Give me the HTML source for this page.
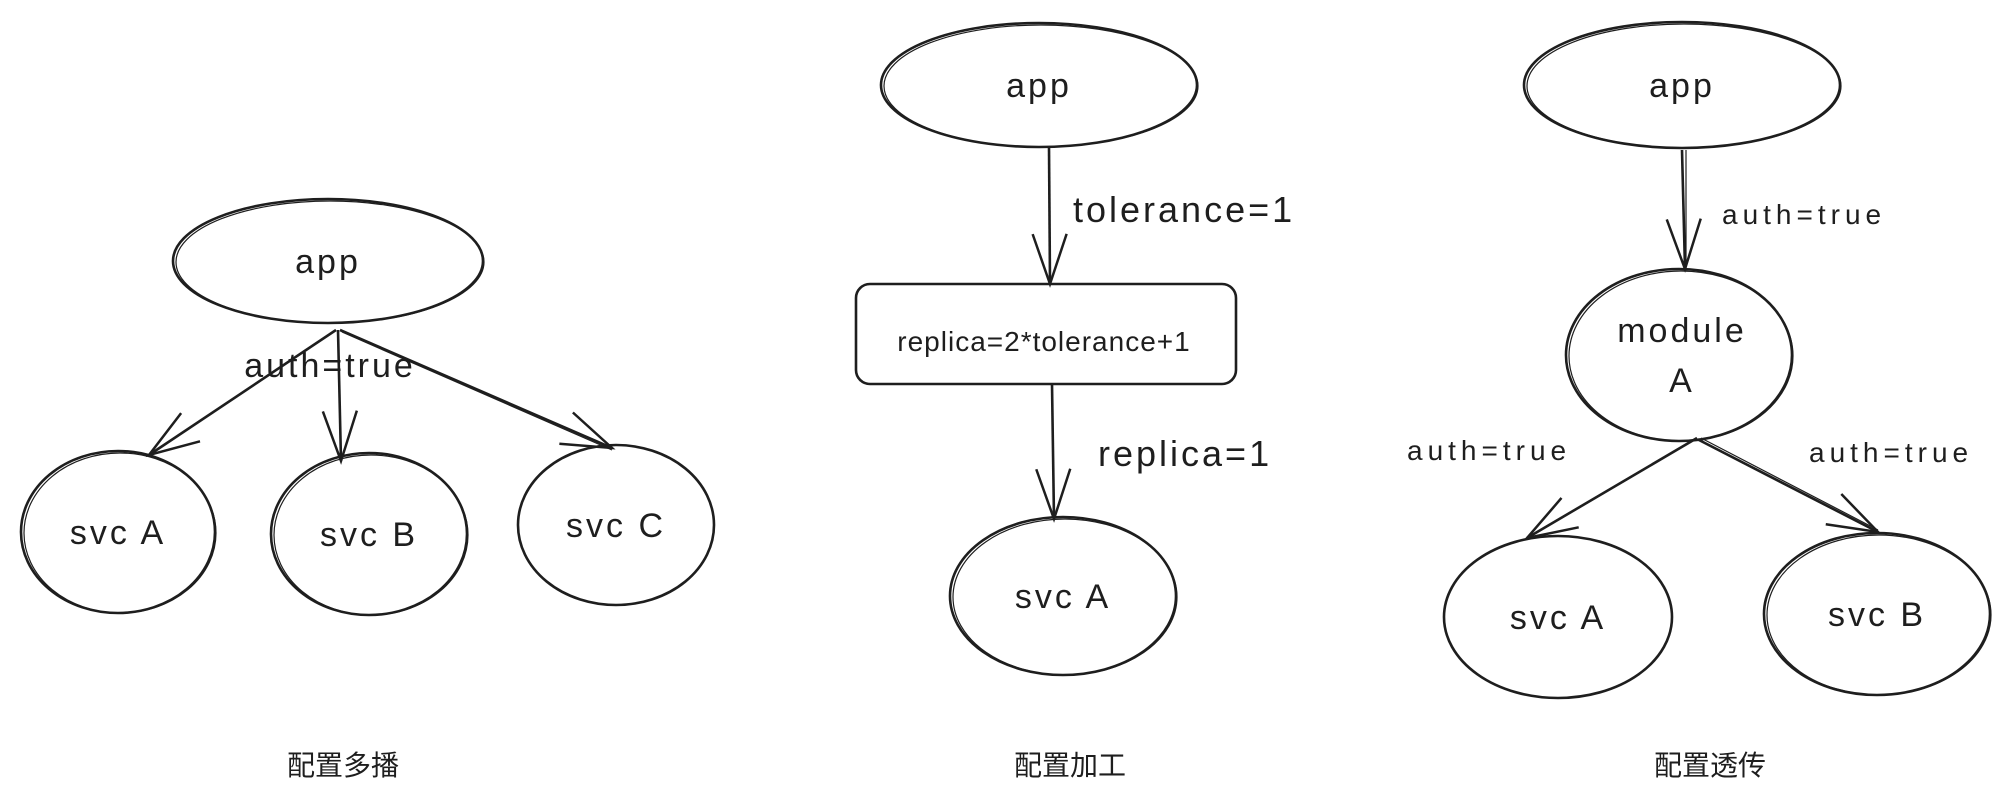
<!DOCTYPE html>
<html><head><meta charset="utf-8"><style>
html,body{margin:0;padding:0;background:#fff;}
svg{display:block;}
text{font-family:"Liberation Sans","Noto Sans CJK SC",sans-serif;fill:#1e1e1e;}
.h{font-family:"Liberation Sans",sans-serif;letter-spacing:3px;}
</style></head><body>
<svg width="2009" height="802" viewBox="0 0 2009 802" xmlns="http://www.w3.org/2000/svg">
<defs>
<marker id="a" markerWidth="60" markerHeight="50" refX="55" refY="25" orient="auto" markerUnits="userSpaceOnUse">
<path d="M5,8 L55,25 L5,42" fill="none" stroke="#1e1e1e" stroke-width="2.5"/>
</marker>
</defs>
<g fill="none" stroke="#1e1e1e" stroke-width="2.6">
<ellipse cx="328" cy="261" rx="155" ry="62"/>
<ellipse cx="330" cy="262" rx="154" ry="61" stroke-width="1.2"/>
<ellipse cx="118" cy="532" rx="97" ry="81"/>
<ellipse cx="120" cy="533" rx="96" ry="80" stroke-width="1.2"/>
<ellipse cx="369" cy="534" rx="98" ry="81"/>
<ellipse cx="371" cy="535" rx="97" ry="80" stroke-width="1.2"/>
<ellipse cx="616" cy="525" rx="98" ry="80"/>
<line x1="336" y1="330" x2="149" y2="455" marker-end="url(#a)"/>
<line x1="338" y1="330" x2="341" y2="461" marker-end="url(#a)"/>
<line x1="340" y1="330" x2="612" y2="448" marker-end="url(#a)"/>
<line x1="342" y1="332" x2="612" y2="450" stroke-width="1.2"/>
<ellipse cx="1039" cy="85" rx="158" ry="62"/>
<ellipse cx="1041" cy="86" rx="157" ry="61" stroke-width="1.2"/>
<line x1="1049" y1="147" x2="1050" y2="284" marker-end="url(#a)"/>
<rect x="856" y="284" width="380" height="100" rx="14"/>
<line x1="1052" y1="384" x2="1054" y2="519" marker-end="url(#a)"/>
<ellipse cx="1063" cy="596" rx="113" ry="79"/>
<ellipse cx="1065" cy="597" rx="112" ry="78" stroke-width="1.2"/>
<ellipse cx="1682" cy="85" rx="158" ry="63"/>
<ellipse cx="1684" cy="86" rx="157" ry="62" stroke-width="1.2"/>
<line x1="1682" y1="150" x2="1685" y2="269" marker-end="url(#a)"/>
<line x1="1686" y1="150" x2="1686" y2="268" stroke-width="1.2"/>
<ellipse cx="1679" cy="355" rx="113" ry="86"/>
<ellipse cx="1681" cy="356" rx="112" ry="85" stroke-width="1.2"/>
<line x1="1697" y1="438" x2="1527" y2="538" marker-end="url(#a)"/>
<line x1="1699" y1="440" x2="1878" y2="532" marker-end="url(#a)"/>
<line x1="1701" y1="438" x2="1878" y2="530" stroke-width="1.2"/>
<ellipse cx="1558" cy="617" rx="114" ry="81"/>
<ellipse cx="1877" cy="614" rx="113" ry="81"/>
<ellipse cx="1879" cy="615" rx="112" ry="80" stroke-width="1.2"/>
</g>
<g class="h" text-anchor="middle" font-size="34">
<text x="328" y="273">app</text>
<text x="118" y="544">svc A</text>
<text x="369" y="546">svc B</text>
<text x="616" y="537">svc C</text>
<text x="330" y="377">auth=true</text>
<text x="1039" y="97">app</text>
<text x="1044" y="351" font-size="28" letter-spacing="1">replica=2*tolerance+1</text>
<text x="1063" y="608">svc A</text>
<text x="1682" y="97">app</text>
<text x="1682" y="342">module</text>
<text x="1682" y="392">A</text>
<text x="1558" y="629">svc A</text>
<text x="1877" y="626">svc B</text>
</g>
<g class="h" font-size="36">
<text x="1073" y="222">tolerance=1</text>
<text x="1098" y="466">replica=1</text>
</g>
<g class="h" font-size="28" style="letter-spacing:5px">
<text x="1722" y="224">auth=true</text>
<text x="1407" y="460">auth=true</text>
<text x="1809" y="462">auth=true</text>
</g>
<g text-anchor="middle" font-size="28">
<text x="343" y="775">配置多播</text>
<text x="1070" y="775">配置加工</text>
<text x="1710" y="775">配置透传</text>
</g>
</svg>
</body></html>
